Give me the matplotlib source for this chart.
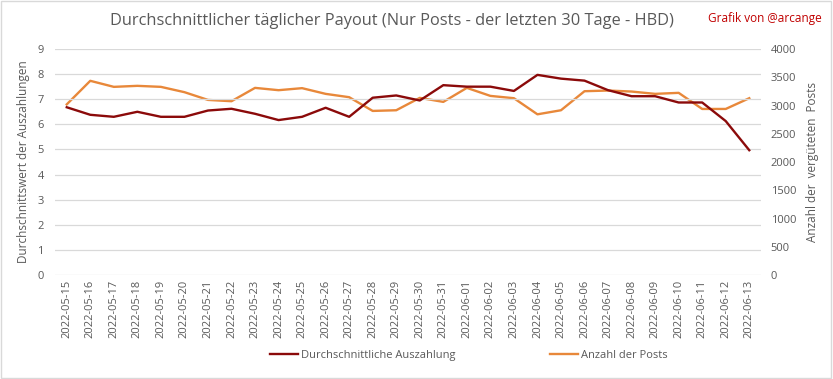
import matplotlib
matplotlib.use("Agg")
import matplotlib.pyplot as plt
from matplotlib.patches import Rectangle

plt.rcParams['font.family'] = ['Open Sans', 'DejaVu Sans']

dates = ['2022-05-15', '2022-05-16', '2022-05-17', '2022-05-18', '2022-05-19',
         '2022-05-20', '2022-05-21', '2022-05-22', '2022-05-23', '2022-05-24',
         '2022-05-25', '2022-05-26', '2022-05-27', '2022-05-28', '2022-05-29',
         '2022-05-30', '2022-05-31', '2022-06-01', '2022-06-02', '2022-06-03',
         '2022-06-04', '2022-06-05', '2022-06-06', '2022-06-07', '2022-06-08',
         '2022-06-09', '2022-06-10', '2022-06-11', '2022-06-12', '2022-06-13']
payout = [6.68, 6.38, 6.3, 6.5, 6.3, 6.3, 6.55, 6.62, 6.42, 6.17,
          6.3, 6.66, 6.3, 7.06, 7.15, 6.95, 7.56, 7.5, 7.5, 7.33,
          7.97, 7.82, 7.74, 7.36, 7.12, 7.12, 6.87, 6.87, 6.13, 4.97]
posts = [3020, 3437, 3330, 3348, 3330, 3236, 3099, 3076, 3312, 3271,
         3307, 3206, 3147, 2904, 2916, 3135, 3064, 3312, 3170, 3129,
         2844, 2916, 3253, 3265, 3247, 3206, 3224, 2939, 2939, 3129]

txt = '#595959'
c_pay = '#8B0A0A'
c_posts = '#E8883A'

fig = plt.figure(figsize=(8.33, 3.79), dpi=100)
ax = fig.add_axes([0.066, 0.2744, 0.8476, 0.5963])
ax2 = ax.twinx()

x = list(range(len(dates)))
l1, = ax.plot(x, payout, color=c_pay, lw=1.7, label='Durchschnittliche Auszahlung', zorder=3)
l2, = ax2.plot(x, posts, color=c_posts, lw=1.7, label='Anzahl der Posts', zorder=2)

ax.set_xlim(-0.5, len(dates) - 0.5)
ax.set_ylim(0, 9)
ax.set_yticks(range(0, 10))
ax2.set_ylim(0, 4000)
ax2.set_yticks(range(0, 4001, 500))
ax.set_xticks(x)
ax.set_xticklabels(dates, rotation=90)
ax.grid(axis='y', color='#D9D9D9', lw=0.9)
ax.set_axisbelow(True)
ax.set_zorder(ax2.get_zorder() + 1)
ax.patch.set_visible(False)

for a in (ax, ax2):
    for s in a.spines.values():
        s.set_visible(False)
    a.tick_params(length=0, colors=txt, labelsize=8)
ax.tick_params(axis='y', pad=8)
ax2.tick_params(axis='y', pad=7)

ax.set_ylabel('Durchschnittswert der Auszahlungen', color=txt, fontsize=8.5)
ax2.set_ylabel('Anzahl der  vergüteten  Posts', color=txt, fontsize=8.5, rotation=90)
ax.yaxis.set_label_coords(-0.035, 0.5)
ax2.yaxis.set_label_coords(1.063, 0.5)

fig.text(0.471, 0.945, 'Durchschnittlicher täglicher Payout (Nur Posts - der letzten 30 Tage - HBD)',
         ha='center', va='center', fontsize=11.75, color=txt)
fig.text(0.987, 0.952, 'Grafik von @arcange', ha='right', va='center', fontsize=8.5, color='#C00000')

fig.legend(handles=[l1, l2], loc='center', bbox_to_anchor=(0.563, 0.061), ncol=2,
           frameon=False, fontsize=8, labelcolor=txt, handlelength=2.5, handletextpad=0.3,
           columnspacing=8.5)

fig.patches.append(Rectangle((0.001, 0.002), 0.997, 0.995, transform=fig.transFigure,
                             fill=False, edgecolor='#D9D9D9', lw=1))

plt.savefig('out.png', dpi=100)
